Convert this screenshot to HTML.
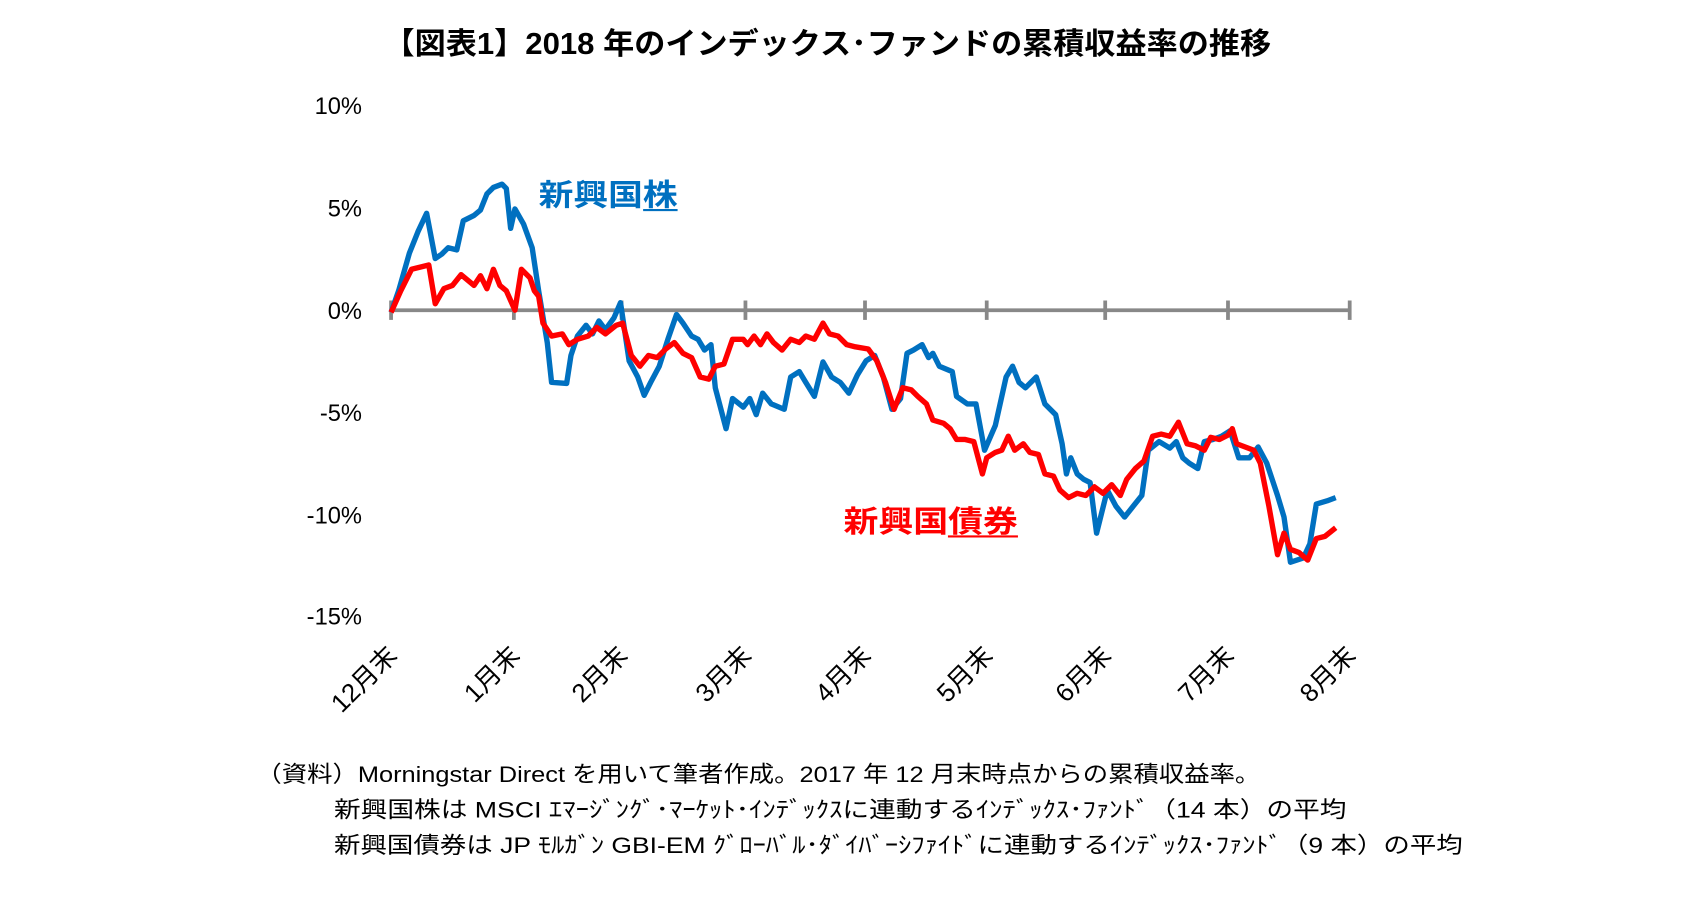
<!DOCTYPE html>
<html><head><meta charset="utf-8"><style>
html,body{margin:0;padding:0;background:#fff}
svg{display:block}
text{font-family:"Liberation Sans","Noto Sans CJK JP",sans-serif}
</style></head><body>
<svg width="1688" height="908" viewBox="0 0 1567 843" xmlns="http://www.w3.org/2000/svg">
<rect width="1567" height="843" fill="#fff"/>
<text x="356" y="50" font-size="28" font-weight="bold" fill="#000" textLength="824" lengthAdjust="spacingAndGlyphs">【図表1】2018 年のインデックス･ファンドの累積収益率の推移</text>
<g font-size="22" text-anchor="end" fill="#000">
<text x="336" y="106">10%</text>
<text x="336" y="201">5%</text>
<text x="336" y="296">0%</text>
<text x="336" y="391">-5%</text>
<text x="336" y="486">-10%</text>
<text x="336" y="580">-15%</text>
</g>
<g stroke="#888" stroke-width="3.5" fill="none">
<line x1="363" y1="288" x2="1253" y2="288"/>
<line x1="363" y1="279" x2="363" y2="297"/>
<line x1="477" y1="279" x2="477" y2="297"/>
<line x1="577" y1="279" x2="577" y2="297"/>
<line x1="692" y1="279" x2="692" y2="297"/>
<line x1="803" y1="279" x2="803" y2="297"/>
<line x1="916" y1="279" x2="916" y2="297"/>
<line x1="1026" y1="279" x2="1026" y2="297"/>
<line x1="1140" y1="279" x2="1140" y2="297"/>
<line x1="1253" y1="279" x2="1253" y2="297"/>
</g>
<g font-size="24" text-anchor="end" fill="#000">
<text transform="translate(370,610) rotate(-45)">12月末</text>
<text transform="translate(484,610) rotate(-45)">1月末</text>
<text transform="translate(584,610) rotate(-45)">2月末</text>
<text transform="translate(699,610) rotate(-45)">3月末</text>
<text transform="translate(810,610) rotate(-45)">4月末</text>
<text transform="translate(923,610) rotate(-45)">5月末</text>
<text transform="translate(1033,610) rotate(-45)">6月末</text>
<text transform="translate(1147,610) rotate(-45)">7月末</text>
<text transform="translate(1260,610) rotate(-45)">8月末</text>
</g>
<polyline fill="none" stroke="#0070C0" stroke-width="5" stroke-linejoin="round" points="363,290 370,270 380,235 388,215 396,198 404,240 410,236 416,230 424,232 430,205 440,200 446,195 452,180 458,174 466,171 470,175 474,212 478,194 486,208 494,230 500,270 508,318 512,355 526,356 530,330 536,312 544,302 550,310 556,298 562,306 570,295 576,281 584,335 592,350 598,367 604,355 612,340 620,315 628,292 634,300 642,312 648,315 654,325 660,320 664,360 674,398 680,370 690,378 696,370 702,385 708,365 716,375 728,380 734,350 742,345 748,355 756,368 764,336 772,350 780,355 788,365 796,348 804,335 812,330 820,350 828,380 836,370 842,328 848,325 856,320 862,332 866,328 872,340 884,345 888,368 898,375 906,375 914,418 924,395 934,350 940,340 946,355 952,360 962,350 970,375 980,385 986,412 990,440 994,425 1000,440 1006,445 1012,448 1018,495 1028,455 1036,470 1044,480 1052,470 1060,460 1066,418 1076,410 1086,416 1092,410 1098,425 1104,430 1112,435 1118,410 1126,408 1134,405 1142,400 1150,425 1160,425 1168,415 1176,430 1186,460 1192,480 1198,522 1210,518 1216,505 1222,468 1232,465 1240,462"/>
<polyline fill="none" stroke="#FF0000" stroke-width="5" stroke-linejoin="round" points="363,290 372,270 382,250 398,246 404,282 412,268 420,265 428,255 434,260 440,265 446,256 452,268 458,250 464,265 470,270 478,288 484,250 492,258 496,270 500,275 504,300 512,312 522,310 528,320 536,315 546,312 554,304 562,310 572,302 578,300 586,330 594,340 602,330 610,332 618,324 626,318 634,328 642,332 650,350 658,352 664,340 672,338 680,315 690,315 694,320 700,312 706,320 712,310 718,318 726,325 734,315 742,318 748,312 756,315 764,300 770,310 778,312 786,320 794,322 806,324 814,335 822,355 830,380 838,360 846,362 852,368 860,375 866,390 876,393 882,398 888,408 896,408 904,410 912,440 916,425 924,420 930,418 936,405 942,418 950,412 956,420 964,422 970,440 978,442 984,455 992,462 1000,458 1008,460 1016,452 1024,458 1032,450 1040,460 1046,445 1054,435 1062,428 1070,405 1078,403 1086,405 1094,392 1102,412 1110,414 1118,418 1124,406 1132,408 1140,404 1144,398 1148,412 1156,415 1164,418 1170,430 1178,470 1186,515 1192,495 1198,510 1206,513 1214,520 1222,500 1230,498 1240,490"/>
<text x="500" y="191" font-size="28" font-weight="bold" fill="#0070C0" textLength="129" lengthAdjust="spacingAndGlyphs">新興国株</text>
<line x1="597" y1="195" x2="629" y2="195" stroke="#0070C0" stroke-width="2"/>
<text x="783" y="494" font-size="28" font-weight="bold" fill="#FF0000" textLength="162" lengthAdjust="spacingAndGlyphs">新興国債券</text>
<line x1="880" y1="498" x2="945" y2="498" stroke="#FF0000" stroke-width="2"/>
<g font-size="21" fill="#000">
<text x="238" y="726" textLength="932" lengthAdjust="spacingAndGlyphs">（資料）Morningstar Direct を用いて筆者作成。2017 年 12 月末時点からの累積収益率。</text>
<text x="310" y="759" textLength="940" lengthAdjust="spacingAndGlyphs">新興国株は MSCI ｴﾏｰｼﾞﾝｸﾞ･ﾏｰｹｯﾄ･ｲﾝﾃﾞｯｸｽに連動するｲﾝﾃﾞｯｸｽ･ﾌｧﾝﾄﾞ（14 本）の平均</text>
<text x="310" y="792" textLength="1048" lengthAdjust="spacingAndGlyphs">新興国債券は JP ﾓﾙｶﾞﾝ GBI-EM ｸﾞﾛｰﾊﾞﾙ･ﾀﾞｲﾊﾞｰｼﾌｧｲﾄﾞに連動するｲﾝﾃﾞｯｸｽ･ﾌｧﾝﾄﾞ（9 本）の平均</text>
</g>
</svg>
</body></html>
